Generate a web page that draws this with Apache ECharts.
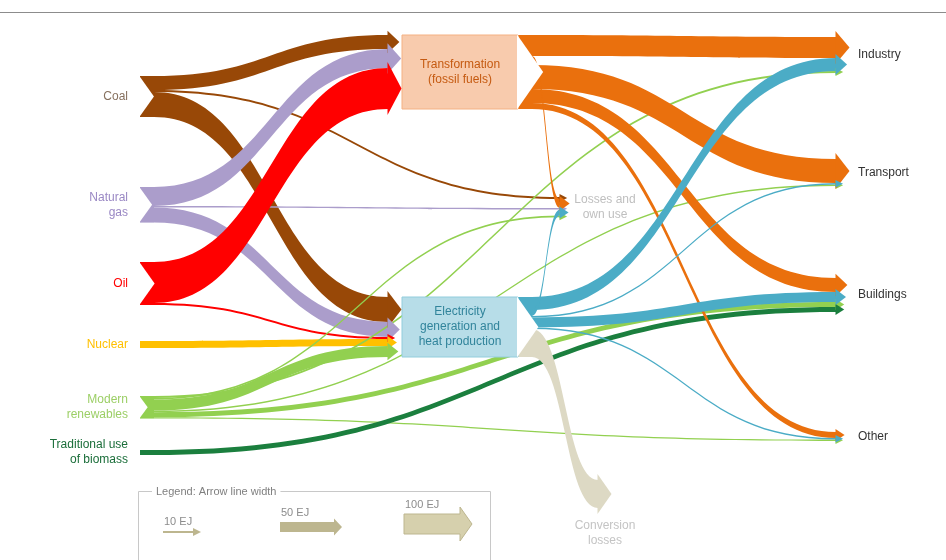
<!DOCTYPE html>
<html>
<head>
<meta charset="utf-8">
<script src="https://cdn.jsdelivr.net/npm/echarts@6/dist/echarts.min.js"></script>
<style>
  html, body { margin: 0; padding: 0; background: #fff; }
  #chart { width: 946px; height: 560px; }
</style>
</head>
<body>
<div id="chart"></div>
<script>
const W = 946, H = 560;
const KY = 0.2;        // px per EJ (legend: 100 EJ arrow is ~20px thick)
const NODE_W = 14;

// ---- flows in EJ ----
const primaryNames = ['Coal', 'Natural gas', 'Oil', 'Nuclear', 'Modern renewables', 'Traditional use of biomass'];
const toTransformation = [70, 95, 205, 0, 0, 0];
const toLosses = [10, 8, 0, 0, 8, 0];
const toElectricity = [125, 75, 10, 35, 55, 0];

const sectorNames = ['Industry', 'Transport', 'Buildings', 'Other'];
const renewablesDirect = [10, 8, 25, 7];
const biomassDirect = [0, 0, 25, 0];
const fromTransformation = [105, 120, 70, 30];
const fromElectricity = [65, 7, 50, 8];
const transformationLosses = 45;
const electricityOwnUse = 30;
const conversionLosses = 140;

const legendValues = [10, 50, 100];
const legendLabels = ['10 EJ', '50 EJ', '100 EJ'];

// node ids
const TR = 'Transformation', TR_OUT = 'Transformation out';
const EL = 'Electricity', EL_OUT = 'Electricity out';
const LOSS = 'Losses and own use', CONV = 'Conversion losses';

const C = {
  'Coal': '#984807',
  'Natural gas': '#ab9dcb',
  'Oil': '#ff0000',
  'Nuclear': '#ffc000',
  'Modern renewables': '#92d050',
  'Traditional use of biomass': '#1b7f3e',
  trans: '#ea700d',
  transBox: '#f8cbad',
  elec: '#4bacc6',
  elecBox: '#b7dde8',
  conv: '#ddd9c4'
};

// label text / colour per source node
const LABELS = {
  'Coal': ['Coal', '#86705e'],
  'Natural gas': ['Natural\ngas', '#9a88c4'],
  'Oil': ['Oil', '#ff0000'],
  'Nuclear': ['Nuclear', '#ffc000'],
  'Modern renewables': ['Modern\nrenewables', '#9ccf66'],
  'Traditional use of biomass': ['Traditional use\nof biomass', '#1b6e3a']
};

// layout: top-left corner of each node, px
const POS = {
  'Coal': [140, 76],
  'Natural gas': [140, 187],
  'Oil': [140, 262],
  'Nuclear': [140, 341],
  'Modern renewables': [140, 396],
  'Traditional use of biomass': [140, 450],
  [TR]: [388, 35],
  [EL]: [388, 297],
  [TR_OUT]: [518, 35],
  [EL_OUT]: [518, 297],
  'Industry': [836, 37],
  [LOSS]: [560, 197],
  'Transport': [836, 159],
  'Buildings': [836, 278],
  'Other': [836, 432],
  [CONV]: [598, 480]
};

const sum = a => a.reduce((p, v) => p + v, 0);

const links = [];
function link(source, target, value, color) {
  if (value > 0) links.push({ source, target, value, lineStyle: { color } });
}
primaryNames.forEach((name, i) => {
  link(name, TR, toTransformation[i], C[name]);
  link(name, LOSS, toLosses[i], C[name]);
  link(name, EL, toElectricity[i], C[name]);
});
sectorNames.forEach((s, i) => link('Modern renewables', s, renewablesDirect[i], C['Modern renewables']));
sectorNames.forEach((s, i) => link('Traditional use of biomass', s, biomassDirect[i], C['Traditional use of biomass']));
link(TR, TR_OUT, sum(toTransformation), C.transBox);
link(EL, EL_OUT, sum(toElectricity), C.elecBox);
sectorNames.forEach((s, i) => link(TR_OUT, s, fromTransformation[i], C.trans));
link(TR_OUT, LOSS, transformationLosses, C.trans);
sectorNames.forEach((s, i) => link(EL_OUT, s, fromElectricity[i], C.elec));
link(EL_OUT, LOSS, electricityOwnUse, C.elec);
link(EL_OUT, CONV, conversionLosses, C.conv);

// node value = max(in, out); the gap is picked so the busiest column gives KY px/EJ
const inSum = {}, outSum = {};
links.forEach(l => {
  outSum[l.source] = (outSum[l.source] || 0) + l.value;
  inSum[l.target] = (inSum[l.target] || 0) + l.value;
});
const nodeValue = n => Math.max(inSum[n] || 0, outSum[n] || 0);
const lastCol = ['Industry', LOSS, 'Transport', 'Buildings', 'Other', CONV];
const busiest = Math.max(sum(primaryNames.map(nodeValue)), sum(lastCol.map(nodeValue)));
const gap = (H - KY * busiest) / 5;

// electricity tail: teal for delivered power, beige for the conversion-loss share
const elecSplit = 1 - conversionLosses / outSum[EL_OUT];
const elecTail = new echarts.graphic.LinearGradient(0, 0, 0, 1, [
  { offset: 0, color: C.elec }, { offset: elecSplit, color: C.elec },
  { offset: elecSplit, color: C.conv }, { offset: 1, color: C.conv }
]);

const nodeOrder = [...primaryNames, TR, EL, TR_OUT, EL_OUT, ...lastCol];
const hidden = { color: 'rgba(0,0,0,0)' };

const data = nodeOrder.map(name => {
  const node = { name, localX: POS[name][0] / W, localY: POS[name][1] / H };
  if (LABELS[name]) {
    node.itemStyle = { color: C[name] };
    node.label = { position: 'left', distance: 12, align: 'right', color: LABELS[name][1], formatter: LABELS[name][0] };
  } else if (name === TR || name === EL) {
    node.itemStyle = hidden;
    node.label = { show: false };
  } else if (name === TR_OUT) {
    node.itemStyle = { color: C.trans };
    node.label = { position: 'left', distance: 58, align: 'center', color: '#c55a11', formatter: 'Transformation\n(fossil fuels)' };
  } else if (name === EL_OUT) {
    node.itemStyle = { color: elecTail };
    node.label = { position: 'left', distance: 58, align: 'center', color: '#31849b', formatter: 'Electricity\ngeneration and\nheat production' };
  } else if (name === LOSS) {
    node.itemStyle = hidden;
    node.label = { position: 'right', distance: 31, align: 'center', color: '#bfbfbf', formatter: 'Losses and\nown use' };
  } else if (name === CONV) {
    node.itemStyle = hidden;
    node.label = { position: 'bottom', distance: 10, align: 'center', color: '#c4c4c4', formatter: 'Conversion\nlosses' };
  } else {
    node.itemStyle = hidden;
    node.label = { position: 'right', distance: 8, color: '#333333' };
  }
  return node;
});

const chart = echarts.init(document.getElementById('chart'));
chart.setOption({
  animation: false,
  backgroundColor: '#ffffff',
  textStyle: { fontFamily: 'Liberation Sans' },
  series: [{
    type: 'sankey',
    left: 0, top: 0, right: 0, bottom: 0,
    nodeWidth: NODE_W,
    nodeGap: gap,
    nodeAlign: 'justify',
    layoutIterations: 0,
    draggable: false,
    silent: true,
    emphasis: { disabled: true },
    itemStyle: { borderWidth: 0 },
    lineStyle: { opacity: 1, curveness: 0.5 },
    label: { fontSize: 12, lineHeight: 15 },
    data,
    links
  }]
});

// ---- decorations taken from the computed sankey layout ----
const graph = chart.getModel().getSeriesByIndex(0).getGraph();
const coalLayout = graph.getNodeById('Coal').getLayout();
const ky = coalLayout.dy / coalLayout.value;
const overlay = [];

// arrow heads at the end of each flow
const arrowTo = new Set([TR, EL, LOSS, CONV, ...sectorNames]);
graph.edges.forEach(edge => {
  const to = edge.node2.id;
  if (!arrowTo.has(to)) return;
  const { ty, dy } = edge.getLayout();
  const x = POS[to][0] - 0.5, y = POS[to][1] + ty;
  const ext = Math.max(3, Math.min(6, dy * 0.3));
  const len = Math.min(NODE_W, 7 + dy * 0.35);
  overlay.push({
    type: 'polygon', z: 100, silent: true,
    shape: { points: [[x, y - ext], [x + len, y + dy / 2], [x, y + dy + ext]] },
    style: { fill: links[edge.dataIndex].lineStyle.color }
  });
});

// chevron notches on the arrow tails
['Coal', 'Natural gas', 'Oil', 'Modern renewables', TR_OUT, EL_OUT].forEach(name => {
  const [x, y] = POS[name];
  const h = graph.getNodeById(name).getLayout().dy;
  overlay.push({
    type: 'polygon', z: 100, silent: true,
    shape: { points: [[x - 1, y - 0.5], [x + h * 0.34, y + h / 2], [x - 1, y + h + 0.5]] },
    style: { fill: '#ffffff' }
  });
});

// thin outline round the two boxes
[[TR, TR_OUT, '#f4b183'], [EL, EL_OUT, '#92cddc']].forEach(([name, out, stroke]) => {
  const [x, y] = POS[name];
  const h = graph.getNodeById(name).getLayout().dy;
  overlay.push({
    type: 'rect', z: 90, silent: true,
    shape: { x: x + NODE_W, y: y, width: POS[out][0] - x - NODE_W, height: h },
    style: { fill: 'none', stroke, lineWidth: 1 }
  });
});

// frame line at the top
overlay.push({ type: 'line', silent: true, shape: { x1: 0, y1: 12.5, x2: W, y2: 12.5 }, style: { stroke: '#8c8c8c', lineWidth: 1 } });

// legend box
const LEG = { x: 138.5, y: 491.5, w: 352, h: 70 };
overlay.push({ type: 'rect', silent: true, shape: { x: LEG.x, y: LEG.y, width: LEG.w, height: LEG.h }, style: { fill: 'none', stroke: '#c8c8c8', lineWidth: 1 } });
overlay.push({
  type: 'text', silent: true, z: 100, x: 152, y: LEG.y,
  style: { text: 'Legend: Arrow line width', fill: '#7f7f7f', font: '11px "Liberation Sans"', backgroundColor: '#fff', padding: [0, 4], verticalAlign: 'middle', textVerticalAlign: 'middle' }
});
const legArrows = [[163, 201, 532], [280, 342, 527], [404, 472, 524]];
legendValues.forEach((v, i) => {
  const [x0, x1, cy] = legArrows[i];
  const t = v * ky;
  const ext = Math.max(3, t * 0.35);
  const hl = Math.max(8, t * 0.6);
  const xh = x1 - hl;
  overlay.push({
    type: 'polygon', silent: true, z: 100,
    shape: { points: [[x0, cy - t / 2], [xh, cy - t / 2], [xh, cy - t / 2 - ext], [x1, cy], [xh, cy + t / 2 + ext], [xh, cy + t / 2], [x0, cy + t / 2]] },
    style: { fill: i === 2 ? '#d6d0ad' : '#bdb68f', stroke: i === 2 ? '#bdb68f' : null, lineWidth: 1 }
  });
  overlay.push({
    type: 'text', silent: true, z: 100, x: x0 + 1, y: cy - t / 2 - 4,
    style: { text: legendLabels[i], fill: '#8c8c8c', font: '11px "Liberation Sans"', verticalAlign: 'bottom', textVerticalAlign: 'bottom' }
  });
});

chart.setOption({ graphic: { elements: overlay } });
</script>
</body>
</html>
